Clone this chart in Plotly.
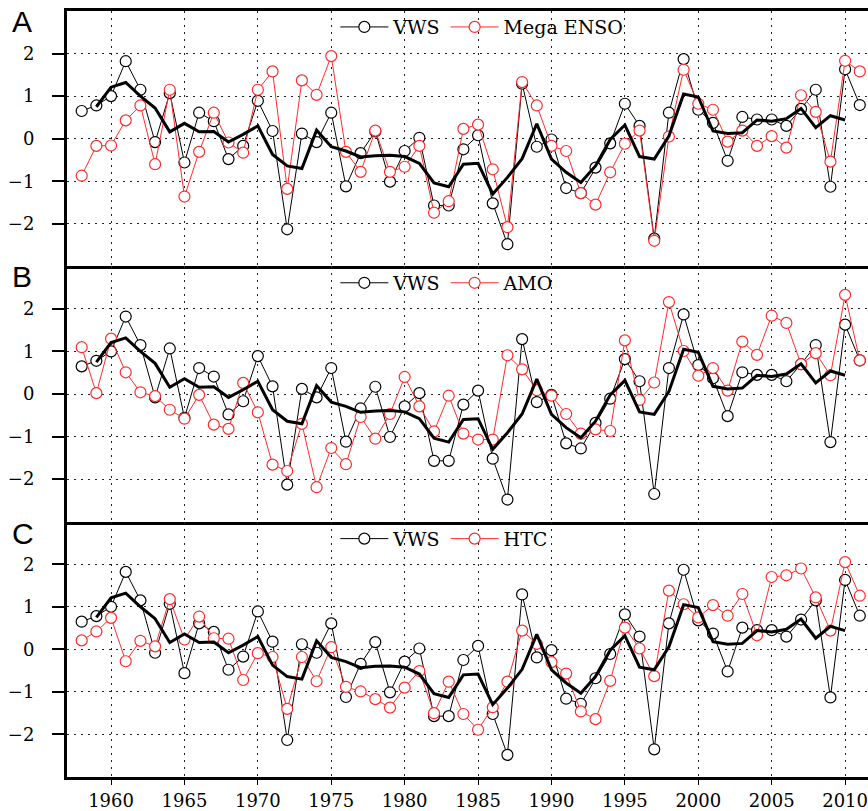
import plotly.graph_objects as go
from plotly.subplots import make_subplots

years = list(range(1958, 2012))

vws = [0.65, 0.78, 1.0, 1.82, 1.15, -0.08, 1.07, -0.56, 0.61, 0.41,
       -0.48, -0.17, 0.89, 0.18, -2.13, 0.12, -0.08, 0.61, -1.12, -0.34,
       0.17, -1.01, -0.29, 0.02, -1.57, -1.57, -0.25, 0.08, -1.52, -2.48,
       1.29, -0.19, -0.02, -1.16, -1.28, -0.68, -0.11, 0.82, 0.30, -2.35,
       0.61, 1.87, 0.68, 0.37, -0.52, 0.51, 0.45, 0.45, 0.30, 0.70,
       1.15, -1.13, 1.63, 0.79]

# 3-yr running mean of VWS, 1959-2010
smooth_years = list(range(1959, 2011))
vws_smooth = [0.75, 1.21, 1.32, 1.0, 0.72, 0.16, 0.36, 0.16, 0.17, -0.08,
              0.10, 0.30, -0.37, -0.64, -0.70, 0.20, -0.19, -0.29, -0.43, -0.40,
              -0.39, -0.42, -0.58, -1.04, -1.13, -0.60, -0.58, -1.30, -0.91, -0.47,
              0.35, -0.48, -0.79, -1.03, -0.64, -0.02, 0.32, -0.42, -0.48, 0.06,
              1.05, 0.98, 0.18, 0.12, 0.14, 0.44, 0.41, 0.47, 0.71, 0.26,
              0.54, 0.44]

mega_enso = [-0.87, -0.17, -0.16, 0.43, 0.78, -0.60, 1.15, -1.36, -0.31, 0.61,
             -0.09, -0.33, 1.15, 1.58, -1.18, 1.37, 1.03, 1.94, -0.31, -0.78,
             0.19, -0.78, -0.66, -0.17, -1.74, -1.47, 0.23, 0.33, -0.72, -2.08,
             1.33, 0.78, -0.17, -0.29, -1.28, -1.55, -0.79, -0.12, 0.19, -2.40,
             0.05, 1.62, 0.82, 0.68, -0.07, 0.19, -0.17, 0.06, -0.21, 1.02,
             0.63, -0.54, 1.83, 1.58]

amo = [1.10, 0.02, 1.30, 0.51, 0.04, -0.05, -0.37, -0.58, -0.02, -0.72,
       -0.82, 0.26, -0.43, -1.66, -1.81, -0.70, -2.19, -1.27, -1.65, -0.54,
       -1.05, -0.47, 0.40, -0.29, -0.88, -0.04, -0.93, -1.07, -1.07, 0.91,
       0.58, 0.09, -0.04, -0.47, -0.93, -0.83, -0.87, 1.26, -0.14, 0.27,
       2.16, 1.01, 0.43, 0.61, 0.08, 1.23, 0.92, 1.84, 1.67, 0.70,
       0.96, 0.44, 2.33, 0.79]

htc = [0.21, 0.42, 0.74, -0.28, 0.20, 0.07, 1.18, 0.23, 0.77, 0.26,
       0.25, -0.72, -0.09, -0.18, -1.40, -0.18, -0.75, 0.05, -0.88, -0.99,
       -1.17, -1.37, -0.90, -0.51, -1.50, -0.76, -1.52, -1.89, -1.36, -0.76,
       0.44, 0.13, -0.30, -0.57, -1.46, -1.64, -0.74, 0.51, 0.02, -0.63,
       1.38, 1.06, 0.75, 1.04, 0.79, 1.30, 0.33, 1.70, 1.74, 1.90,
       1.22, 0.44, 2.05, 1.26]

panels = [("A", "Mega ENSO", mega_enso), ("B", "AMO", amo), ("C", "HTC", htc)]
legend_y = [0.979, 0.645, 0.311]
label_y = [0.986, 0.653, 0.318]

serif = "DejaVu Serif"

fig = make_subplots(rows=3, cols=1, shared_xaxes=True, vertical_spacing=0)

for i, (letter, name, series) in enumerate(panels):
    row = i + 1
    leg = "legend" if i == 0 else f"legend{i + 1}"
    fig.add_trace(go.Scatter(
        x=years, y=vws, name="VWS", mode="lines+markers",
        line=dict(color="black", width=1),
        marker=dict(symbol="circle", size=11, color="white",
                    line=dict(color="black", width=1.2)),
        legend=leg), row=row, col=1)
    fig.add_trace(go.Scatter(
        x=years, y=series, name=name, mode="lines+markers",
        line=dict(color="#ff2b2b", width=1),
        marker=dict(symbol="circle", size=11, color="white",
                    line=dict(color="#ff2b2b", width=1.2)),
        legend=leg), row=row, col=1)
    fig.add_trace(go.Scatter(
        x=smooth_years, y=vws_smooth, mode="lines",
        line=dict(color="black", width=3), showlegend=False), row=row, col=1)

    fig.add_annotation(text=letter, xref="paper", yref="paper",
                       x=-0.071, y=label_y[i], xanchor="left", yanchor="middle",
                       showarrow=False,
                       font=dict(family="Liberation Sans", size=30, color="black"))

    fig.update_yaxes(range=[-3, 3], tickvals=[-2, -1, 0, 1, 2],
                     showline=True, linewidth=3, linecolor="black",
                     ticks="outside", ticklen=12, tickwidth=2, tickcolor="black",
                     ticklabelstandoff=14,
                     showgrid=True, gridcolor="#222", gridwidth=1, griddash="2px,5px",
                     zeroline=False,
                     tickfont=dict(family=serif, size=18, color="black"),
                     row=row, col=1)
    fig.update_xaxes(range=[1957, 2011.56], tickvals=list(range(1960, 2011, 5)),
                     showline=True, linewidth=3, linecolor="black",
                     showgrid=True, gridcolor="#222", gridwidth=1, griddash="2px,5px",
                     zeroline=False, ticklabeloverflow="allow",
                     tickfont=dict(family=serif, size=18, color="black"),
                     row=row, col=1)

fig.update_xaxes(mirror=True, row=1, col=1)
fig.update_xaxes(ticks="outside", ticklen=5, tickwidth=1, tickcolor="black",
                 showticklabels=True, row=3, col=1)

legend_common = dict(orientation="h", xanchor="left", yanchor="middle",
                     x=0.335, bgcolor="rgba(0,0,0,0)", itemwidth=48,
                     font=dict(family=serif, size=19, color="black"))
fig.update_layout(
    width=868, height=811,
    margin=dict(l=67, r=0, t=11, b=29),
    plot_bgcolor="white", paper_bgcolor="white",
    legend=dict(**legend_common, y=legend_y[0]),
    legend2=dict(**legend_common, y=legend_y[1]),
    legend3=dict(**legend_common, y=legend_y[2]),
)

fig.write_html("out.html", config={"displayModeBar": False},
               post_script="document.body.style.margin='0';")
